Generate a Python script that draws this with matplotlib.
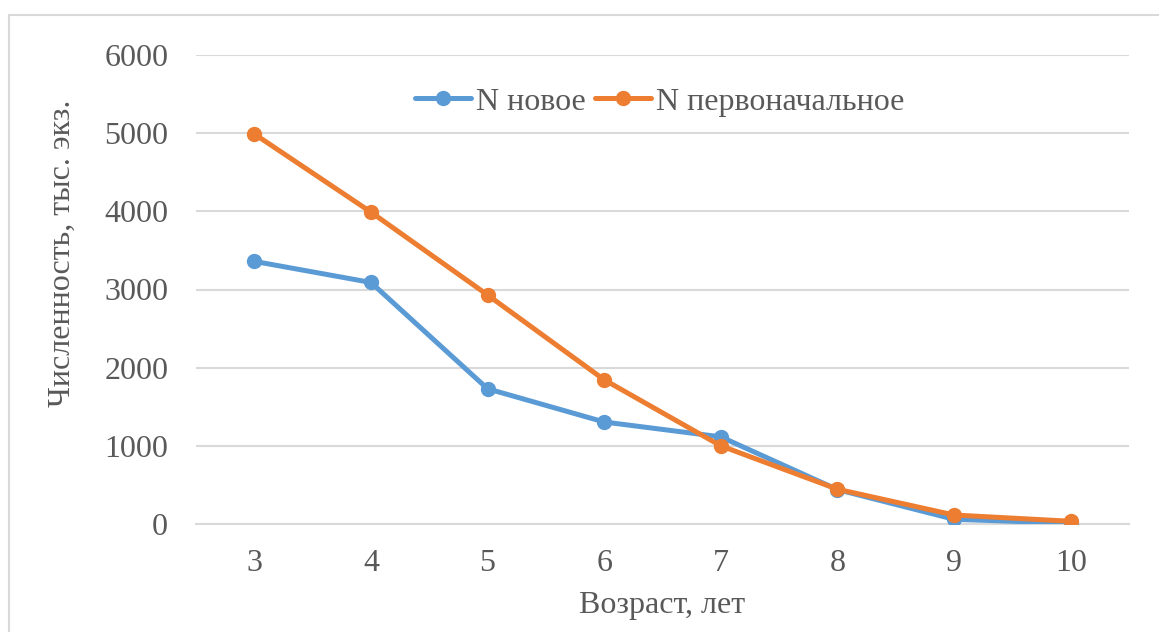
import matplotlib.pyplot as plt
from matplotlib.patches import Rectangle

# Данные
ages = ['3', '4', '5', '6', '7', '8', '9', '10']
n_new = [3360, 3090, 1730, 1305, 1115, 440, 60, 10]
n_initial = [4990, 3990, 2930, 1845, 1000, 445, 115, 35]

plt.rcParams['font.family'] = ['Liberation Serif', 'DejaVu Serif']
text_color = '#595959'
grid_color = '#D9D9D9'

fig = plt.figure(figsize=(11.59, 6.32), dpi=100)
ax = fig.add_axes([196 / 1159, 1 - 524 / 632, 933 / 1159, 469 / 632])

# Рамка диаграммы (видны только верх и левый край)
fig.patches.append(Rectangle((9 / 1159, -0.1), 1.2, 1.1 - 15 / 632,
                             transform=fig.transFigure, fill=False,
                             edgecolor=grid_color, linewidth=1.5))

x = range(len(ages))
ax.plot(x, n_new, color='#5B9BD5', linewidth=3.6, marker='o', markersize=10,
        label='N новое', solid_capstyle='round', zorder=3)
ax.plot(x, n_initial, color='#ED7D31', linewidth=3.6, marker='o', markersize=10,
        label='N первоначальное', solid_capstyle='round', zorder=4)

ax.set_xlim(-0.5, len(ages) - 0.5)
ax.set_ylim(0, 6000)
ax.set_yticks(range(0, 6001, 1000))
ax.set_xticks(list(x))
ax.set_xticklabels(ages)

ax.grid(axis='y', color=grid_color, linewidth=1.5)
ax.set_axisbelow(True)
for s in ['top', 'right', 'left']:
    ax.spines[s].set_visible(False)
ax.spines['bottom'].set_color(grid_color)
ax.spines['bottom'].set_linewidth(1.5)
ax.tick_params(length=0, labelsize=23, colors=text_color)
ax.tick_params(axis='x', pad=18)
ax.tick_params(axis='y', pad=20)

ax.set_xlabel('Возраст, лет', fontsize=23, color=text_color)
ax.set_ylabel('Численность, тыс. экз.', fontsize=23, color=text_color)
ax.xaxis.set_label_coords(0.5, -(606 - 524) / 469)
ax.yaxis.set_label_coords((62 - 196) / 933, (524 - 253) / 469)
ax.xaxis.label.set_va('center')
ax.yaxis.label.set_va('center')

ax.legend(loc='center', bbox_to_anchor=(660 / 1159, 1 - 102 / 632),
          bbox_transform=fig.transFigure, ncol=2, frameon=False,
          fontsize=23, labelcolor=text_color, handlelength=1.75,
          handletextpad=0.15, columnspacing=0.3)

fig.savefig('out.png', dpi=100)
